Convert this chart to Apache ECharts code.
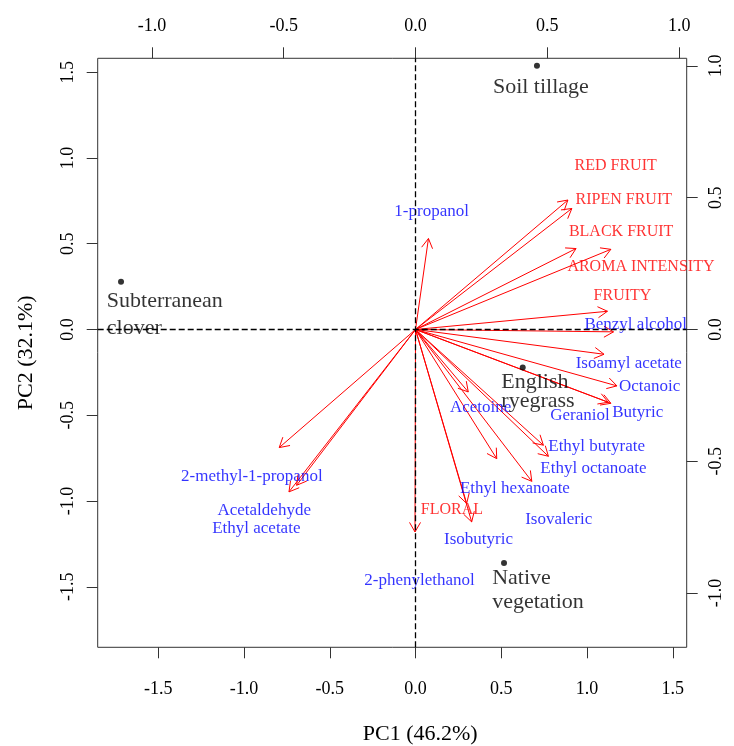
<!DOCTYPE html>
<html>
<head>
<meta charset="utf-8">
<script src="https://cdn.jsdelivr.net/npm/echarts@6/dist/echarts.min.js"></script>
<style>
  html, body { margin: 0; padding: 0; background: #fff; }
  #chart { width: 734px; height: 746px; }
</style>
</head>
<body>
<div id="chart"></div>
<script>
// PCA biplot: site scores (bottom/left axes) and variable loadings (top/right axes)

// Site scores on PC1 / PC2
const siteNames = ['Soil tillage', 'Subterranean\nclover', 'English\nryegrass', 'Native\nvegetation'];
const sitePC1 = [0.708, -1.717, 0.625, 0.516];
const sitePC2 = [1.537, 0.278, -0.222, -1.361];
// where each site's name sits (score scale)
const siteLabelPC1 = [0.454, -1.797, 0.503, 0.450];
const siteLabelPC2 = [1.409, 0.082, -0.364, -1.524];

// Variable loadings (arrow tips, loading scale)
const varNames = [
  '1-propanol', 'RED FRUIT', 'RIPEN FRUIT', 'BLACK FRUIT', 'AROMA INTENSITY', 'FRUITY',
  'Benzyl alcohol', 'Isoamyl acetate', 'Octanoic', 'Butyric', 'Geraniol', 'Acetoine',
  'Ethyl butyrate', 'Ethyl octanoate', 'Ethyl hexanoate', 'Isovaleric', 'FLORAL',
  'Isobutyric', '2-phenylethanol', '2-methyl-1-propanol', 'Acetaldehyde', 'Ethyl acetate'
];
const varSensory = [false, true, true, true, true, true,
  false, false, false, false, false, false,
  false, false, false, false, true,
  false, false, false, false, false];
const loadPC1 = [0.049, 0.578, 0.593, 0.609, 0.741, 0.728,
  0.751, 0.715, 0.764, 0.741, 0.731, 0.200,
  0.485, 0.504, 0.308, 0.441, 0.194,
  0.213, -0.002, -0.517, -0.451, -0.480];
const loadPC2 = [0.345, 0.491, 0.459, 0.307, 0.304, 0.069,
  -0.009, -0.094, -0.214, -0.280, -0.276, -0.237,
  -0.439, -0.481, -0.490, -0.576, -0.660,
  -0.730, -0.768, -0.448, -0.591, -0.616];
// where each variable's name sits (loading scale)
const varLabelPC1 = [0.061, 0.759, 0.790, 0.780, 0.855, 0.785,
  0.835, 0.809, 0.888, 0.843, 0.624, 0.247,
  0.687, 0.675, 0.377, 0.543, 0.138,
  0.239, 0.015, -0.621, -0.574, -0.604];
const varLabelPC2 = [0.449, 0.620, 0.491, 0.370, 0.237, 0.126,
  0.020, -0.129, -0.218, -0.316, -0.325, -0.296,
  -0.443, -0.527, -0.603, -0.721, -0.683,
  -0.797, -0.951, -0.557, -0.688, -0.755];

// Axis limits and tick marks
const scoreLim = [-1.853, 1.581];
const loadRatio = 1.537;
const loadLim = [scoreLim[0] / loadRatio, scoreLim[1] / loadRatio];
const scoreTicks = [-1.5, -1.0, -0.5, 0.0, 0.5, 1.0, 1.5];
const loadTicks = [-1.0, -0.5, 0.0, 0.5, 1.0];
const xTitle = 'PC1 (46.2%)';
const yTitle = 'PC2 (32.1%)';

const SERIF = "'Liberation Serif', 'Times New Roman', serif";
const fmt = v => Number(v).toFixed(1);

function axisCommon(ticks, margin, rotate) {
  return {
    type: 'value',
    splitLine: { show: false },
    axisLine: { show: false, onZero: false },
    axisTick: { show: true, length: 11, inside: false, customValues: ticks,
      lineStyle: { color: '#333', width: 1 } },
    axisLabel: { show: true, customValues: ticks, formatter: fmt, margin: margin,
      rotate: rotate || 0, color: '#000', fontFamily: SERIF, fontSize: 18 }
  };
}

const chart = echarts.init(document.getElementById('chart'), null, { renderer: 'canvas' });

const arrowData = loadPC1.map((x, i) => [x, loadPC2[i]]);
const varLabelData = varNames.map((n, i) => ({
  name: n,
  value: [varLabelPC1[i], varLabelPC2[i]],
  label: { color: varSensory[i] ? '#ff0000' : '#0000ff', fontSize: varSensory[i] ? 16 : 17 }
}));
const siteLineHeights = [26, 26.7, 19, 24];
const siteLabelData = siteNames.map((n, i) => ({
  name: n,
  value: [siteLabelPC1[i], siteLabelPC2[i]],
  label: { lineHeight: siteLineHeights[i] }
}));

const option = {
  animation: false,
  backgroundColor: '#fff',
  grid: {
    left: 97.7, right: 47.3, top: 58.3, bottom: 98.7,
    outerBoundsMode: 'none',
    containLabel: false,
    show: true, borderColor: '#333', borderWidth: 1, backgroundColor: 'transparent'
  },
  xAxis: [
    Object.assign(axisCommon(scoreTicks, 33), {
      position: 'bottom', min: scoreLim[0], max: scoreLim[1],
      name: xTitle, nameLocation: 'middle', nameGap: 76,
      nameTextStyle: { fontFamily: SERIF, fontSize: 22, color: '#000', padding: [0, 0, 0, 56] }
    }),
    Object.assign(axisCommon(loadTicks, 23), {
      position: 'top', min: loadLim[0], max: loadLim[1]
    })
  ],
  yAxis: [
    Object.assign(axisCommon(scoreTicks, 20, 90), {
      position: 'left', min: scoreLim[0], max: scoreLim[1],
      name: yTitle, nameLocation: 'middle', nameGap: 60,
      nameTextStyle: { fontFamily: SERIF, fontSize: 22, color: '#000' }
    }),
    Object.assign(axisCommon(loadTicks, 21, 90), {
      position: 'right', min: loadLim[0], max: loadLim[1]
    })
  ],
  series: [
    {
      // loading arrows with open heads
      type: 'custom',
      xAxisIndex: 1, yAxisIndex: 1,
      clip: false,
      z: 2,
      data: arrowData,
      renderItem: function (params, api) {
        const o = api.coord([0, 0]);
        const t = api.coord([api.value(0), api.value(1)]);
        const ang = Math.atan2(t[1] - o[1], t[0] - o[0]);
        const L = 11, a = Math.PI / 6;
        const p1 = [t[0] - L * Math.cos(ang - a), t[1] - L * Math.sin(ang - a)];
        const p2 = [t[0] - L * Math.cos(ang + a), t[1] - L * Math.sin(ang + a)];
        const st = { stroke: '#ff0000', lineWidth: 1, fill: null };
        return {
          type: 'group',
          children: [
            { type: 'line', shape: { x1: o[0], y1: o[1], x2: t[0], y2: t[1] }, style: st },
            { type: 'polyline', shape: { points: [p1, t, p2] }, style: st }
          ]
        };
      }
    },
    {
      // variable names
      type: 'scatter',
      xAxisIndex: 1, yAxisIndex: 1,
      symbolSize: 1,
      itemStyle: { color: 'rgba(0,0,0,0)' },
      z: 3,
      label: {
        show: true, position: 'inside', formatter: '{b}',
        fontFamily: SERIF, align: 'center', verticalAlign: 'middle'
      },
      labelLayout: { hideOverlap: false },
      data: varLabelData
    },
    {
      // site score points
      type: 'scatter',
      xAxisIndex: 0, yAxisIndex: 0,
      symbol: 'circle', symbolSize: 6,
      itemStyle: { color: '#000' },
      z: 4,
      data: sitePC1.map((x, i) => [x, sitePC2[i]])
    },
    {
      // site names
      type: 'scatter',
      xAxisIndex: 0, yAxisIndex: 0,
      symbolSize: 1,
      itemStyle: { color: 'rgba(0,0,0,0)' },
      z: 4,
      label: {
        show: true, position: [0, 0], formatter: '{b}',
        fontFamily: SERIF, fontSize: 22, color: '#000',
        align: 'left', verticalAlign: 'middle'
      },
      labelLayout: { hideOverlap: false },
      data: siteLabelData
    },
    {
      // zero reference lines
      type: 'scatter',
      xAxisIndex: 0, yAxisIndex: 0,
      data: [],
      z: 5,
      markLine: {
        silent: true,
        symbol: ['none', 'none'],
        label: { show: false },
        lineStyle: { type: [6, 3], color: '#000', width: 1.3 },
        data: [{ xAxis: 0 }, { yAxis: 0 }]
      }
    }
  ]
};

chart.setOption(option);
</script>
</body>
</html>
